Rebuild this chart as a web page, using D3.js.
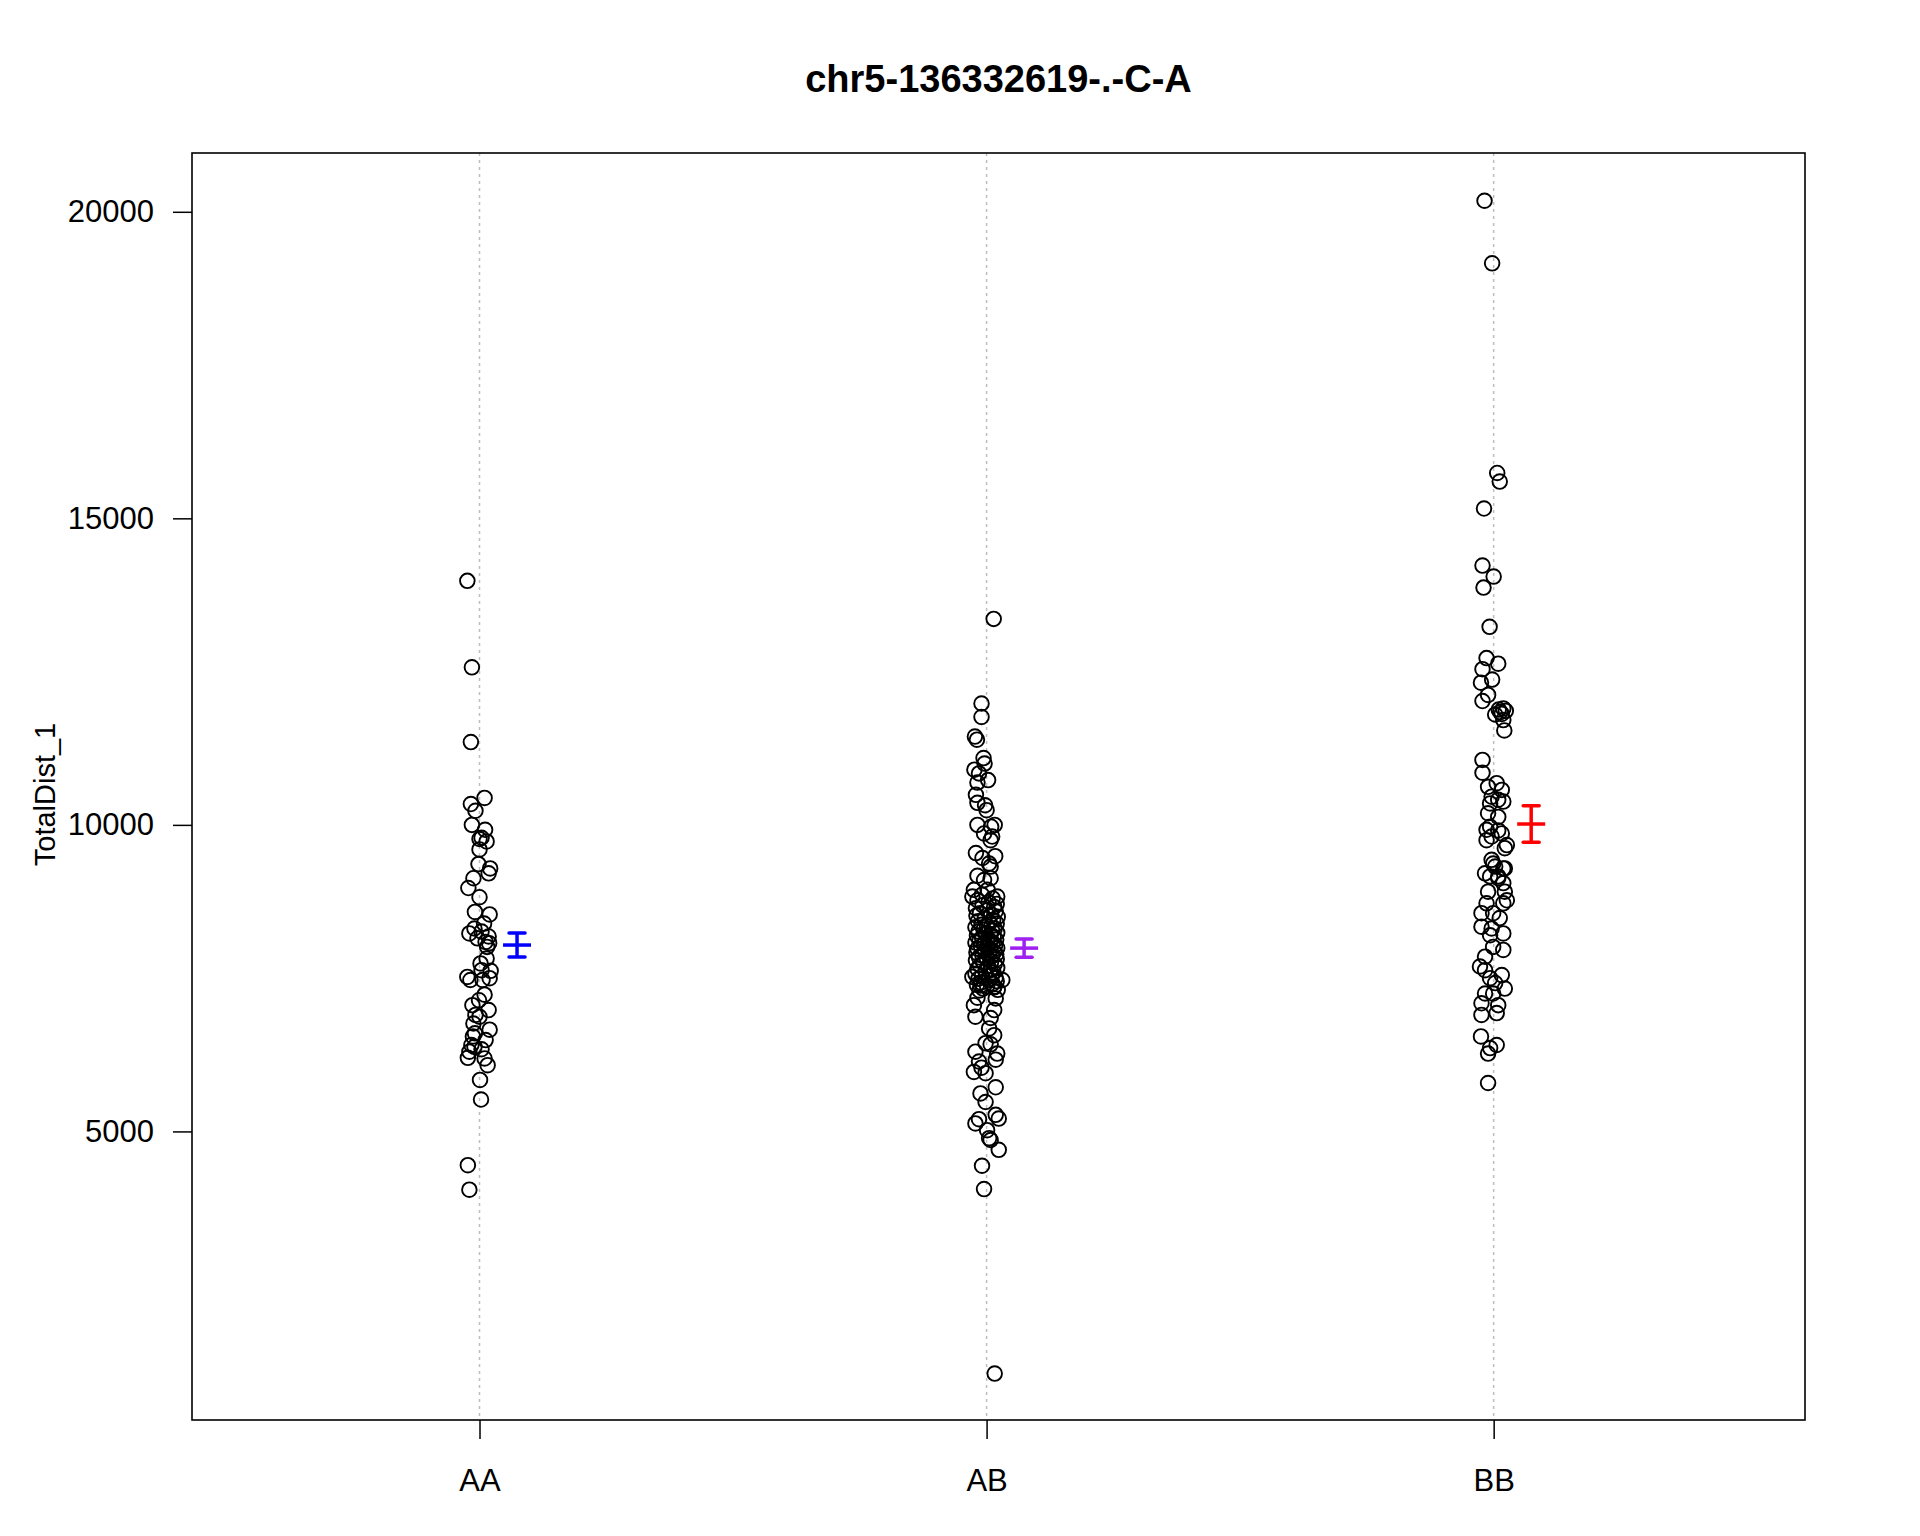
<!DOCTYPE html>
<html>
<head>
<meta charset="utf-8">
<script src="https://cdn.jsdelivr.net/npm/d3@7"></script>
<style>
  html, body { margin: 0; padding: 0; background: #ffffff; }
  text { font-family: "Liberation Sans", Arial, Helvetica, sans-serif; }
</style>
</head>
<body>
<svg id="chart" width="1920" height="1536"></svg>
<script>
// ---------------- data ----------------
const title = "chr5-136332619-.-C-A";
const yLabel = "TotalDist_1";
const categories = ["AA", "AB", "BB"];
const yTicks = [5000, 10000, 15000, 20000];

// individual observations: value, horizontal jitter (in category units)
const aaValues = [13980,12570,11350,10440,10340,10230,10000,9920,9790,9770,9730,9600,9360,9290,9210,9130,8970,8820,8580,8540,8390,8310,8260,8230,8180,8150,8090,8070,8010,7820,7740,7630,7620,7520,7500,7470,7470,7230,7140,7060,6980,6900,6870,6760,6660,6600,6550,6490,6410,6380,6340,6300,6200,6190,6080,5840,5520,4450,4050];
const aaJitter = [-0.024,-0.015,-0.017,0.010,-0.017,-0.008,-0.015,0.011,0.004,0.000,0.014,0.000,-0.002,0.021,0.018,-0.012,-0.022,0.000,-0.009,0.020,0.009,-0.010,0.004,-0.020,0.018,-0.004,0.012,0.019,0.015,0.014,0.002,0.004,0.022,-0.024,0.020,-0.018,0.006,0.010,-0.001,-0.014,0.018,-0.008,0.000,-0.012,0.020,-0.009,-0.013,0.012,-0.016,-0.010,0.004,-0.020,-0.023,0.010,0.016,0.001,0.003,-0.023,-0.020];

const abValues = [13360,11980,11760,11440,11390,11090,11000,10900,10840,10730,10690,10490,10360,10320,10240,10000,9970,10000,9860,9810,9750,9540,9490,9460,9370,9320,9170,9100,9130,8940,8940,8830,8830,8860,
  8800,8770,8740,8710,8690,8660,8640,8610,8590,8560,8540,8520,8500,8470,8450,8430,8410,8390,8370,8350,8330,8310,8290,8270,8260,8240,8220,8210,8190,8170,8160,8140,8130,8110,8100,8080,8070,8050,8040,8020,8010,7990,7980,7960,7950,7930,7920,7900,7890,7870,7860,7840,7830,7810,7790,7770,7750,7730,7710,7690,7670,7650,7630,7610,7590,7570,7550,7530,7510,7490,7470,7450,7430,7410,7390,7370,7350,7330,7310,7300,
  7520,7470,7380,7360,7180,7170,7060,6980,6870,6850,6680,6570,6440,6420,6300,6270,6140,6170,6040,5970,5950,5720,5620,5480,5270,5210,5130,5200,5020,4860,4890,4700,4440,4060,1050];
const abJitter = [0.014,-0.010,-0.010,-0.023,-0.019,-0.006,-0.004,-0.024,-0.015,0.003,-0.018,-0.021,-0.018,-0.003,0.000,-0.018,0.009,0.016,-0.005,0.011,0.008,-0.021,0.017,-0.008,0.005,0.008,-0.018,-0.005,0.008,-0.025,0.002,0.021,-0.028,-0.009,
  0.012,-0.018,0.004,0.020,-0.008,0.015,-0.021,0.002,0.018,-0.013,0.009,-0.020,0.022,-0.004,0.013,-0.017,0.006,0.020,-0.010,0.001,-0.022,0.016,-0.006,0.011,-0.016,0.021,-0.002,0.008,-0.019,0.014,-0.009,0.003,0.019,-0.014,0.007,-0.022,0.012,-0.005,0.017,-0.011,0.002,0.021,-0.018,0.008,-0.003,0.015,-0.020,0.005,0.019,-0.008,0.011,-0.015,0.000,0.020,-0.021,0.009,-0.006,0.016,-0.013,0.003,0.021,-0.018,0.007,-0.002,0.014,-0.022,0.010,-0.009,0.018,-0.016,0.004,0.020,-0.011,0.012,-0.019,0.001,0.015,-0.007,0.022,-0.014,
  -0.028,0.031,-0.012,0.015,-0.018,0.018,-0.025,0.015,-0.022,0.008,0.005,0.015,-0.002,0.008,-0.022,0.021,-0.015,0.018,-0.010,-0.025,-0.002,0.018,-0.012,-0.002,0.018,0.024,-0.022,-0.015,0.001,0.008,0.005,0.024,-0.009,-0.005,0.016];

const bbValues = [20180,19160,15740,15600,15160,14230,14050,13870,13230,12720,12630,12540,12370,12320,12120,12020,11900,11880,11860,11840,11800,11810,11710,11540,11060,10850,
  10620,10680,10570,10460,10410,10380,10350,10190,10130,9920,9970,9910,9860,9810,9750,9670,9620,9430,9320,9290,9210,9160,
  9370,9290,9160,9130,9050,8910,8910,8770,8720,8720,8560,8560,8480,8340,8310,8230,8200,8010,7960,7850,7690,7630,7550,7500,7420,7330,7250,7250,7090,7060,6900,6930,6550,6410,6360,6270,5790];
const bbJitter = [-0.018,-0.003,0.007,0.012,-0.019,-0.022,0.000,-0.020,-0.008,-0.014,0.009,-0.022,-0.003,-0.025,-0.011,-0.022,0.019,0.010,0.024,0.013,0.003,0.016,0.019,0.021,-0.022,-0.022,
  -0.011,0.006,0.016,-0.004,0.009,0.019,-0.007,-0.011,0.009,-0.014,-0.007,0.009,0.016,-0.004,-0.014,0.026,0.022,-0.004,0.003,0.022,-0.017,0.009,
  -0.001,0.019,-0.007,0.009,0.019,-0.011,0.022,0.026,0.019,-0.014,-0.024,-0.001,0.012,-0.024,-0.004,0.019,-0.007,-0.001,0.019,-0.017,-0.027,-0.017,0.016,-0.007,0.003,0.022,-0.017,-0.001,-0.024,0.009,-0.024,0.006,-0.025,0.006,-0.007,-0.011,-0.011];

// group summaries: mean and error-bar limits
const groupMeans = [8040, 7990, 10014];
const groupLower = [7845, 7840, 9715];
const groupUpper = [8236, 8138, 10313];
const groupColors = ["#0000ff", "#a020f0", "#ff0000"];

// ---------------- drawing ----------------
const svg = d3.select("#chart");
svg.append("rect").attr("width", 1920).attr("height", 1536).attr("fill", "#ffffff");

const plot = { left: 192, right: 1805, top: 153, bottom: 1420 };

const x = d3.scaleLinear().domain([0.433, 3.614]).range([plot.left, plot.right]);
const y = d3.scaleLinear().domain([293, 20959]).range([plot.bottom, plot.top]);

// dotted vertical guide lines
svg.append("g").selectAll("line").data(categories).join("line")
  .attr("x1", (d, i) => x(i + 1)).attr("x2", (d, i) => x(i + 1))
  .attr("y1", plot.top).attr("y2", plot.bottom)
  .attr("stroke", "#bebebe").attr("stroke-width", 1.5)
  .attr("stroke-dasharray", "3,4");

// points
const groups = [
  { vals: aaValues, jit: aaJitter },
  { vals: abValues, jit: abJitter },
  { vals: bbValues, jit: bbJitter }
];
const pts = [];
groups.forEach((g, gi) => g.vals.forEach((v, k) => pts.push({ g: gi + 1, v: v, j: g.jit[k] || 0 })));
svg.append("g").selectAll("circle").data(pts).join("circle")
  .attr("cx", d => x(d.g + d.j))
  .attr("cy", d => y(d.v))
  .attr("r", 7.3)
  .attr("fill", "none")
  .attr("stroke", "#000000")
  .attr("stroke-width", 1.9);

// error bars
const ebOffset = 0.074;
const eb = svg.append("g");
categories.forEach((c, i) => {
  const cx = x(i + 1 + ebOffset);
  const col = groupColors[i];
  eb.append("line").attr("x1", cx).attr("x2", cx)
    .attr("y1", y(groupLower[i])).attr("y2", y(groupUpper[i]))
    .attr("stroke", col).attr("stroke-width", 3.5);
  [groupLower[i], groupUpper[i]].forEach(v => {
    eb.append("line").attr("x1", cx - 8).attr("x2", cx + 8)
      .attr("y1", y(v)).attr("y2", y(v))
      .attr("stroke", col).attr("stroke-width", 3.5).attr("stroke-linecap", "round");
  });
  eb.append("line").attr("x1", cx - 14).attr("x2", cx + 14)
    .attr("y1", y(groupMeans[i])).attr("y2", y(groupMeans[i]))
    .attr("stroke", col).attr("stroke-width", 3.5);
});

// box
svg.append("rect")
  .attr("x", plot.left).attr("y", plot.top)
  .attr("width", plot.right - plot.left).attr("height", plot.bottom - plot.top)
  .attr("fill", "none").attr("stroke", "#000000").attr("stroke-width", 1.6);

// y axis
const yAxis = d3.axisLeft(y).tickValues(yTicks).tickSize(19).tickPadding(19).tickFormat(d3.format("d"));
const gy = svg.append("g").attr("transform", `translate(${plot.left},0)`).call(yAxis);
gy.select(".domain").remove();
gy.selectAll(".tick line").attr("stroke", "#000").attr("stroke-width", 1.5);
gy.selectAll(".tick text").attr("font-size", 31).attr("fill", "#000")
  .attr("font-family", "'Liberation Sans', Arial, sans-serif");

// x axis
const xAxis = d3.axisBottom(x).tickValues([1, 2, 3]).tickSize(19).tickPadding(30)
  .tickFormat((d) => categories[d - 1]);
const gx = svg.append("g").attr("transform", `translate(0,${plot.bottom})`).call(xAxis);
gx.select(".domain").remove();
gx.selectAll(".tick line").attr("stroke", "#000").attr("stroke-width", 1.5);
gx.selectAll(".tick text").attr("font-size", 31).attr("fill", "#000")
  .attr("font-family", "'Liberation Sans', Arial, sans-serif");

// title
svg.append("text")
  .attr("x", (plot.left + plot.right) / 2).attr("y", 92)
  .attr("text-anchor", "middle")
  .attr("font-size", 38).attr("font-weight", "bold")
  .text(title);

// y label
svg.append("text")
  .attr("transform", `translate(45,${(plot.top + plot.bottom) / 2 + 8}) rotate(-90)`)
  .attr("text-anchor", "middle").attr("dominant-baseline", "central")
  .attr("font-size", 29)
  .text(yLabel);
</script>
</body>
</html>
